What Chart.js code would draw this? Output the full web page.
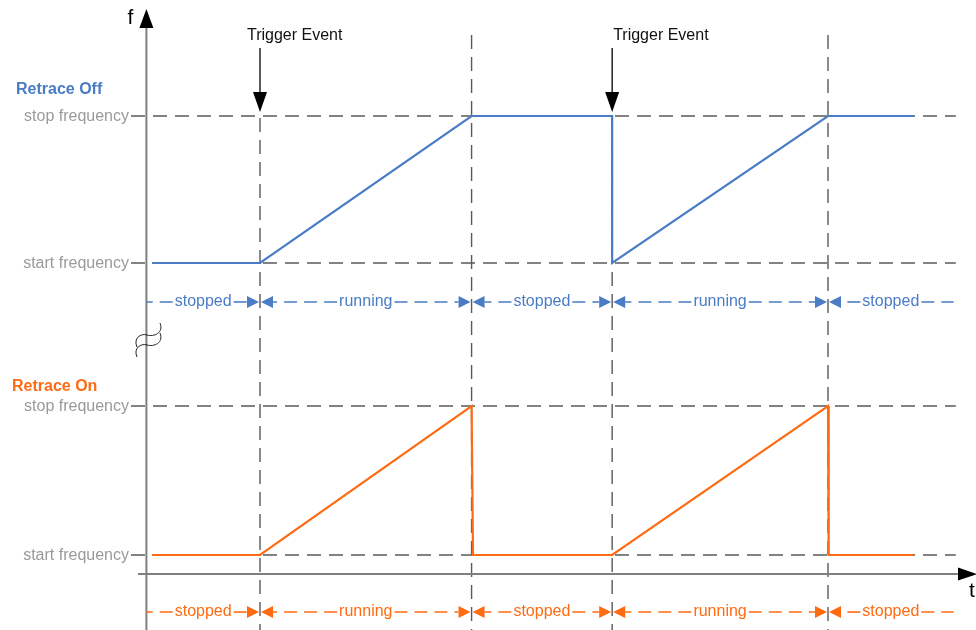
<!DOCTYPE html>
<html>
<head>
<meta charset="utf-8">
<script src="https://cdn.jsdelivr.net/npm/chart.js@4/dist/chart.umd.min.js"></script>
<style>
  html, body { margin: 0; padding: 0; background: #ffffff; }
  #wrap { width: 976px; height: 630px; position: relative; }
</style>
</head>
<body>
<div id="wrap"><canvas id="c" width="976" height="630"></canvas></div>
<script>
// ---- data ----
const offTimes = [0.08, 1.6, 4.58, 6.56, 6.56, 9.6, 10.8];
const offFreq  = [0,    0,   1,    1,    0,    1,   1];
const onTimes  = [0.08, 1.6, 4.58, 4.6, 6.56, 9.6, 9.61, 10.8];
const onFreq   = [0,    0,   1,    0,   0,    1,   0,    0];
const eventTimes   = [1.6, 4.58, 6.56, 9.6];
const triggerTimes = [1.6, 6.56];
const triggerLabel = 'Trigger Event';
const freqTickValues = [0, 1];
const freqTickLabels = ['start frequency', 'stop frequency'];
const panelTitles = ['Retrace Off', 'Retrace On'];
const stateBounds = [0, 1.6, 4.58, 6.56, 9.6, 11.37];
const stateLabels = ['stopped', 'running', 'stopped', 'running', 'stopped'];
const axisLabels = ['f', 't'];

// ---- styles ----
const BLUE = '#4a7cc6';
const ORANGE = '#ff6b12';
const GREY_TXT = '#9a9a9a';
const DASH_COL = '#5a5a5a';
const AXIS_COL = '#7f7f7f';
const FONT = '16px "Liberation Sans", Arial, sans-serif';
const BOLD = 'bold 16px "Liberation Sans", Arial, sans-serif';

const toPts = (xs, ys) => xs.map((x, i) => ({ x: x, y: ys[i] }));

function tri(ctx, pts, color) {
  ctx.beginPath();
  ctx.moveTo(pts[0][0], pts[0][1]);
  ctx.lineTo(pts[1][0], pts[1][1]);
  ctx.lineTo(pts[2][0], pts[2][1]);
  ctx.closePath();
  ctx.fillStyle = color;
  ctx.fill();
}

function dashedLine(ctx, x1, y1, x2, y2, color, width, dash) {
  ctx.save();
  ctx.beginPath();
  ctx.setLineDash(dash);
  ctx.strokeStyle = color;
  ctx.lineWidth = width;
  ctx.moveTo(x1, y1);
  ctx.lineTo(x2, y2);
  ctx.stroke();
  ctx.restore();
}

function statusRow(ctx, xs, y, color) {
  ctx.save();
  ctx.font = FONT;
  ctx.textAlign = 'center';
  ctx.textBaseline = 'middle';
  const n = stateLabels.length;
  for (let i = 0; i < n; i++) {
    const xa = xs.getPixelForValue(stateBounds[i]);
    const xb = xs.getPixelForValue(stateBounds[i + 1]);
    const leftArrow = i > 0;
    const rightArrow = i < n - 1;
    const a0 = xa + (leftArrow ? 13 : 0);
    const b0 = xb - (rightArrow ? 13 : 0);
    const mid = (xa + xb) / 2;
    const tw = ctx.measureText(stateLabels[i]).width;
    dashedLine(ctx, mid - tw / 2 - 2, y, a0, y, color, 1.6, [13, 7]);
    dashedLine(ctx, mid + tw / 2 + 2, y, b0, y, color, 1.6, [13, 7]);
    ctx.fillStyle = color;
    ctx.fillText(stateLabels[i], mid, y);
    if (rightArrow) tri(ctx, [[xb - 1, y], [xb - 13, y - 6], [xb - 13, y + 6]], color);
    if (leftArrow) tri(ctx, [[xa + 1, y], [xa + 13, y - 6], [xa + 13, y + 6]], color);
  }
  ctx.restore();
}

const diagramPlugin = {
  id: 'diagram',
  beforeDatasetsDraw(chart) {
    const ctx = chart.ctx;
    const xs = chart.scales.x, yOff = chart.scales.yOff, yOn = chart.scales.yOn;
    const xRight = xs.getPixelForValue(11.4);
    [yOff, yOn].forEach(sc => {
      freqTickValues.forEach(v => {
        const py = sc.getPixelForValue(v);
        dashedLine(ctx, 131, py, xRight, py, DASH_COL, 1.4, [14, 8]);
      });
    });
    eventTimes.forEach(t => {
      const px = xs.getPixelForValue(t);
      const top = triggerTimes.includes(t) ? 118 : 35;
      dashedLine(ctx, px, top, px, 630, DASH_COL, 1.4, [14, 8]);
    });
  },
  afterDatasetsDraw(chart) {
    const ctx = chart.ctx;
    const xs = chart.scales.x, yOff = chart.scales.yOff, yOn = chart.scales.yOn;
    const x0 = xs.getPixelForValue(0);
    const xAxisY = yOn.getPixelForValue(-0.128);
    ctx.save();
    // y axis
    ctx.strokeStyle = AXIS_COL;
    ctx.lineWidth = 2;
    ctx.beginPath();
    ctx.moveTo(x0, 24); ctx.lineTo(x0, 630);
    ctx.stroke();
    tri(ctx, [[x0, 9], [x0 - 7, 28], [x0 + 7, 28]], '#000');
    // x axis
    ctx.beginPath();
    ctx.moveTo(138, xAxisY); ctx.lineTo(962, xAxisY);
    ctx.strokeStyle = AXIS_COL;
    ctx.stroke();
    tri(ctx, [[977, xAxisY], [958, xAxisY - 6.5], [958, xAxisY + 6.5]], '#000');
    ctx.fillStyle = '#000';
    ctx.font = '21px "Liberation Sans", Arial, sans-serif';
    ctx.textAlign = 'center';
    ctx.textBaseline = 'middle';
    ctx.fillText(axisLabels[0], x0 - 16, 18);
    ctx.fillText(axisLabels[1], 972, 591);

    // break symbol
    ctx.strokeStyle = '#222';
    ctx.lineWidth = 1;
    [0, 10].forEach(d => {
      ctx.beginPath();
      ctx.moveTo(137, 347 + d);
      ctx.bezierCurveTo(133, 338 + d, 141, 333 + d, 147, 335 + d);
      ctx.bezierCurveTo(154, 337 + d, 164, 333 + d, 160, 323 + d);
      ctx.stroke();
    });

    // tick labels
    ctx.font = FONT;
    ctx.fillStyle = GREY_TXT;
    ctx.textAlign = 'right';
    [yOff, yOn].forEach(sc => {
      freqTickValues.forEach((v, i) => {
        ctx.fillText(freqTickLabels[i], 129, sc.getPixelForValue(v) + 1);
      });
    });

    // panel titles
    ctx.font = BOLD;
    ctx.textAlign = 'left';
    ctx.fillStyle = BLUE;
    ctx.fillText(panelTitles[0], 16, 90);
    ctx.fillStyle = ORANGE;
    ctx.fillText(panelTitles[1], 12, 387);

    // trigger arrows
    ctx.font = FONT;
    const dxs = [-13, 1];
    triggerTimes.forEach((t, i) => {
      const px = xs.getPixelForValue(t);
      ctx.strokeStyle = '#000';
      ctx.lineWidth = 1.3;
      ctx.beginPath();
      ctx.moveTo(px, 48); ctx.lineTo(px, 95);
      ctx.stroke();
      tri(ctx, [[px, 112], [px - 7, 92], [px + 7, 92]], '#000');
      ctx.fillStyle = '#111';
      ctx.textAlign = 'left';
      ctx.fillText(triggerLabel, px + dxs[i], 36);
    });

    statusRow(ctx, xs, yOff.getPixelForValue(-0.265), BLUE);
    statusRow(ctx, xs, yOn.getPixelForValue(-0.383), ORANGE);
    ctx.restore();
  }
};

new Chart(document.getElementById('c'), {
  type: 'line',
  data: {
    datasets: [
      { label: panelTitles[0], data: toPts(offTimes, offFreq), yAxisID: 'yOff',
        borderColor: BLUE, borderWidth: 2.2, pointRadius: 0, tension: 0, fill: false },
      { label: panelTitles[1], data: toPts(onTimes, onFreq), yAxisID: 'yOn',
        borderColor: ORANGE, borderWidth: 2.2, pointRadius: 0, tension: 0, fill: false }
    ]
  },
  options: {
    responsive: false,
    animation: false,
    layout: { padding: 0 },
    plugins: { legend: { display: false }, tooltip: { enabled: false } },
    scales: {
      x: { type: 'linear', display: false, min: -146.4 / 71, max: (976 - 146.4) / 71 },
      yOff: { type: 'linear', display: false, min: 1 + 116 / 147 - 630 / 147, max: 1 + 116 / 147 },
      yOn: { type: 'linear', display: false, min: 1 + 406 / 149 - 630 / 149, max: 1 + 406 / 149 }
    }
  },
  plugins: [diagramPlugin]
});
</script>
</body>
</html>
